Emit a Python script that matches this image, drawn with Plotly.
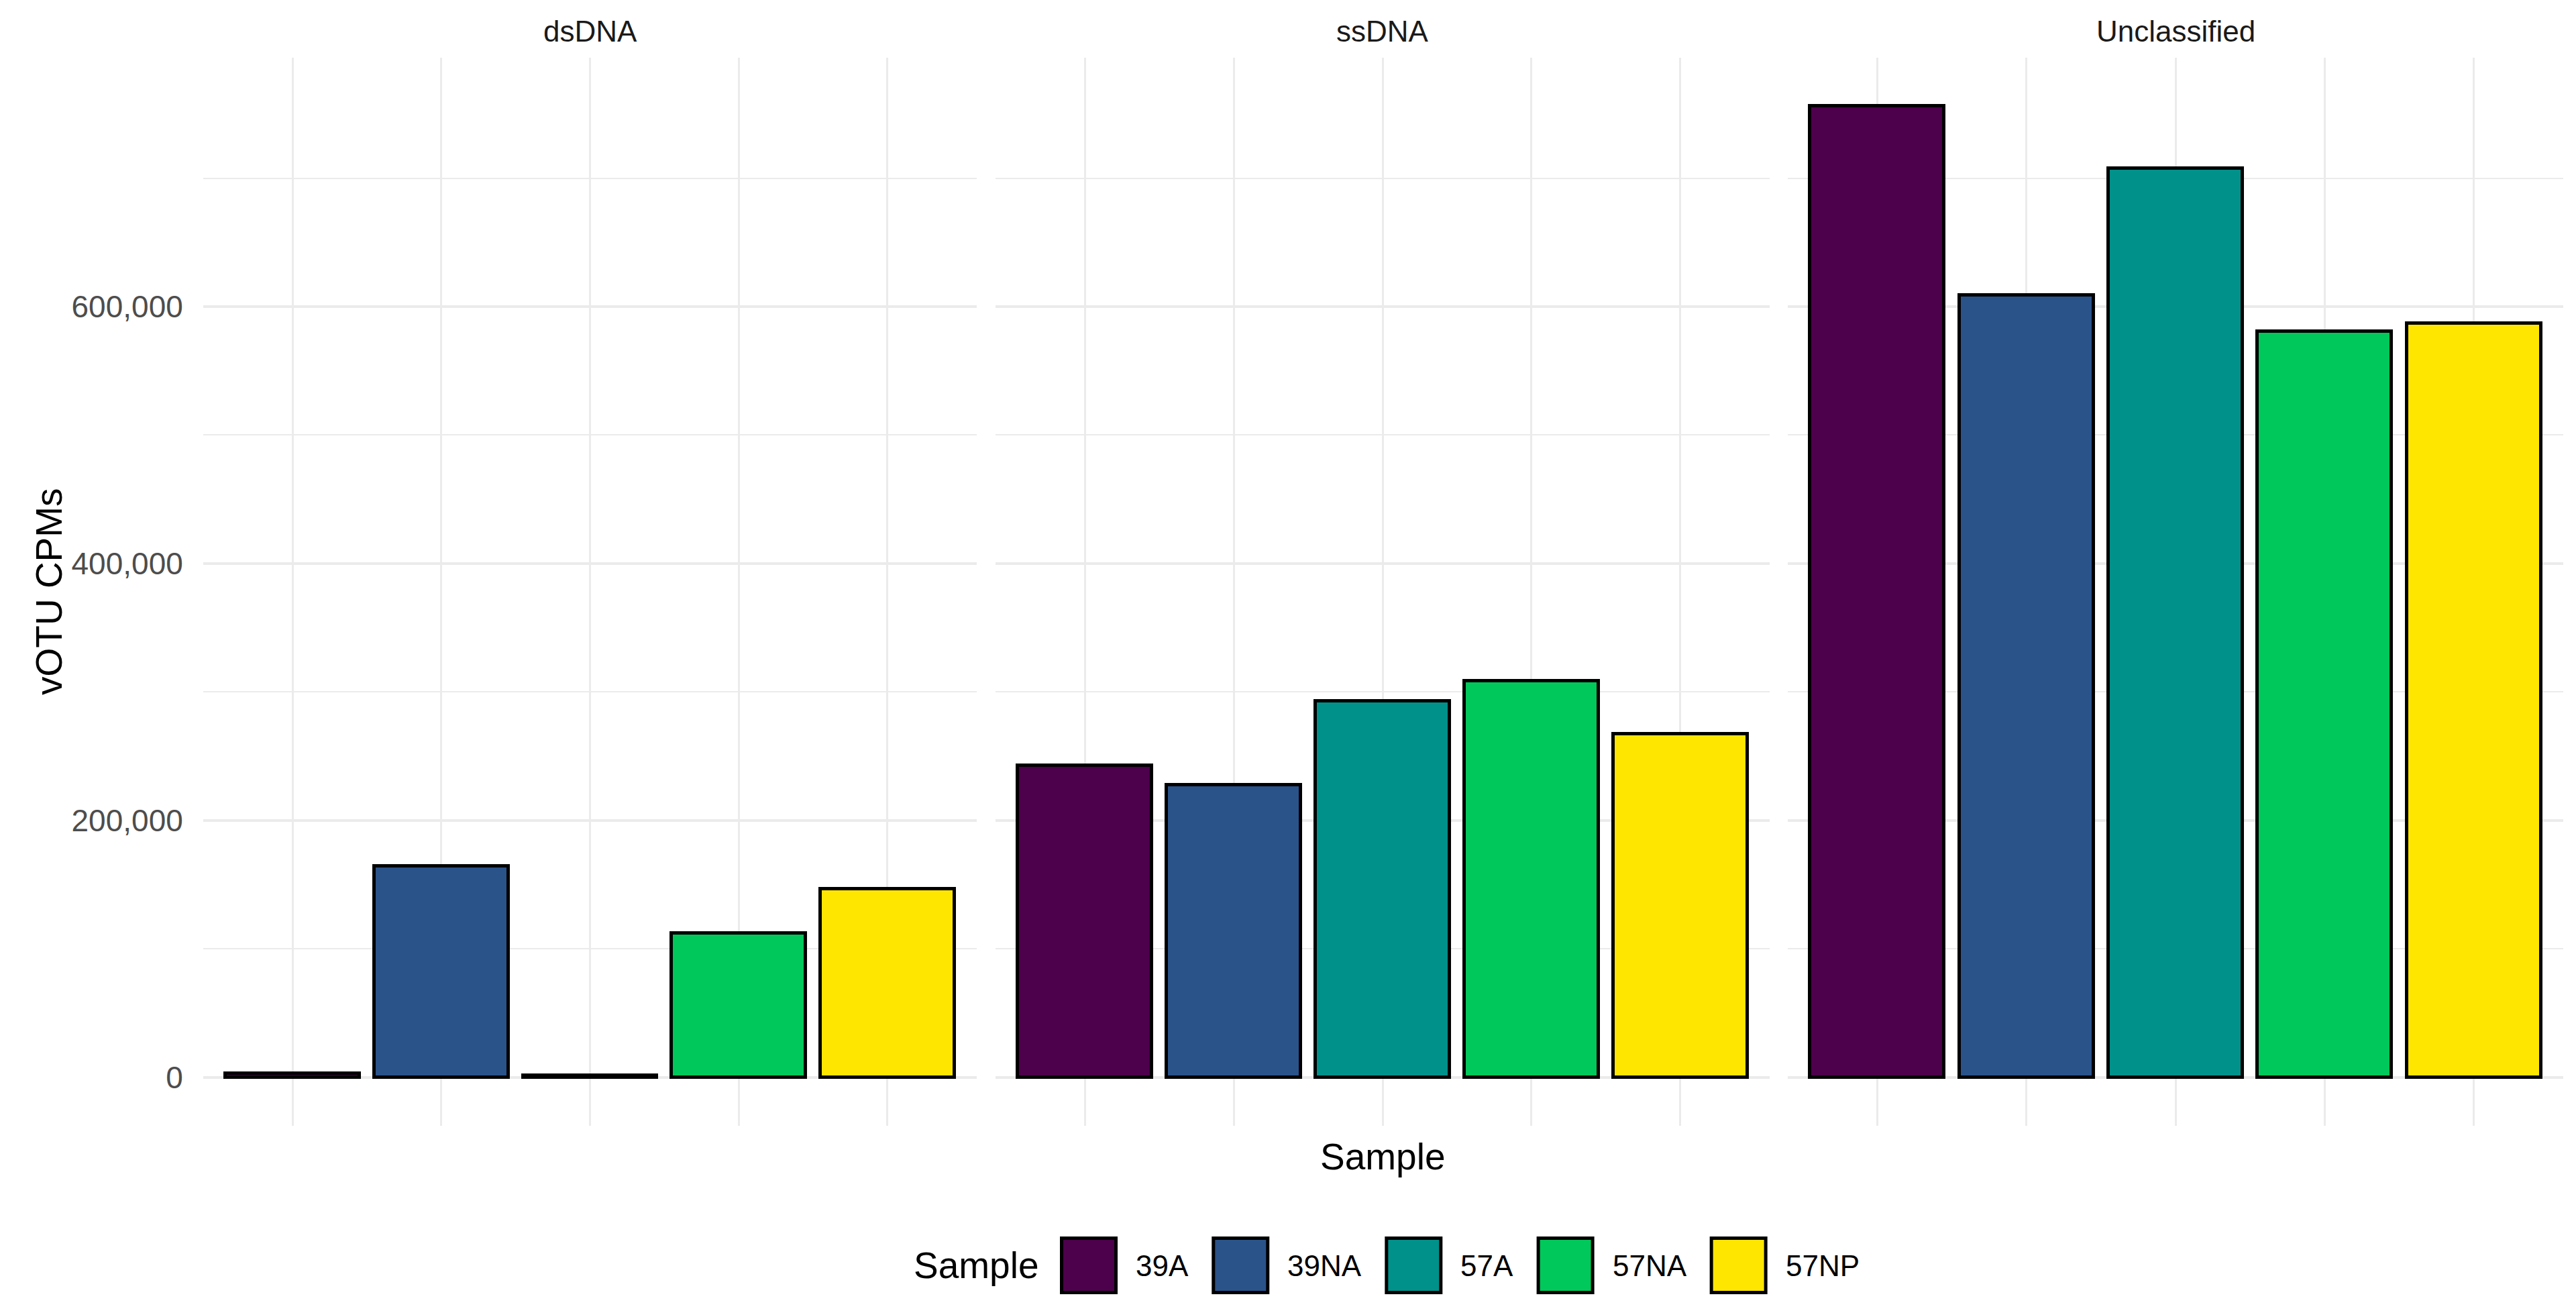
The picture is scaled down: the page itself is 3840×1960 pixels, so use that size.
import plotly.graph_objects as go

# ---- data ----
panels = ["dsDNA", "ssDNA", "Unclassified"]
samples = ["39A", "39NA", "57A", "57NA", "57NP"]
ds_vals = [3000, 164500, 1500, 112000, 146500]
ss_vals = [242800, 227400, 292900, 308300, 267200]
un_vals = [756000, 608900, 707600, 580600, 587000]
colors = ["#4D004C", "#2A538A", "#00918B", "#00C85A", "#FFE600"]
y_ticks = [0, 200000, 400000, 600000]
y_title = "vOTU CPMs"
x_title = "Sample"
legend_title = "Sample"

# page has an 8px body margin; compensate so screen pixels match the reference
OFF = 8
W, H = 3840 - 2 * OFF, 1960 - 2 * OFF
FONT = "Liberation Sans, Arial, sans-serif"
GRID = "#EBEBEB"

def px(xs):
    return (xs - OFF) / W

def py(ys):
    return 1 - (ys - OFF) / H

values = [ds_vals, ss_vals, un_vals]
vmax = max(max(v) for v in values)
yrange = [-0.05 * vmax, 1.05 * vmax]

# panel domains (screen pixels)
px_domains = [(303, 1456), (1484, 2638), (2665, 3821)]
ydom = [py(1678), py(86)]

fig = go.Figure()
for i, (name, vals) in enumerate(zip(panels, values)):
    ax = "" if i == 0 else str(i + 1)
    fig.add_trace(go.Bar(
        x=samples, y=vals, width=0.9,
        marker=dict(color=colors, line=dict(color="black", width=5)),
        xaxis="x" + ax, yaxis="y" + ax, showlegend=False,
    ))
    xd = [px(px_domains[i][0]), px(px_domains[i][1])]
    fig.layout["xaxis" + ax] = dict(
        domain=xd, type="category", categoryorder="array", categoryarray=samples,
        range=[-0.6, len(samples) - 0.4], showticklabels=False, ticks="",
        showgrid=True, gridcolor=GRID, gridwidth=3, zeroline=False, showline=False,
        anchor="y" + ax,
    )
    yax = dict(
        domain=ydom, range=yrange, tickvals=y_ticks, tickformat=",",
        showgrid=True, gridcolor=GRID, gridwidth=3.5, zeroline=False, showline=False,
        minor=dict(dtick=100000, tick0=0, showgrid=True, gridcolor=GRID, gridwidth=2, ticks=""),
        anchor="x" + ax,
        tickfont=dict(family=FONT, size=46, color="#4D4D4D"),
        ticks="outside", ticklen=20, tickcolor="rgba(0,0,0,0)",
        showticklabels=(i == 0),
    )
    if i > 0:
        yax["matches"] = "y"
    fig.layout["yaxis" + ax] = yax
    # strip label
    fig.add_annotation(
        text=name, x=(xd[0] + xd[1]) / 2, y=py(47), xref="paper", yref="paper",
        showarrow=False, font=dict(family=FONT, size=44, color="#1A1A1A"),
        xanchor="center", yanchor="middle",
    )

# axis titles
fig.add_annotation(text=y_title, x=px(73), y=(ydom[0] + ydom[1]) / 2, xref="paper", yref="paper",
                   textangle=-90, showarrow=False, font=dict(family=FONT, size=55, color="black"),
                   xanchor="center", yanchor="middle")
fig.add_annotation(text=x_title, x=px((px_domains[1][0] + px_domains[1][1]) / 2), y=py(1724),
                   xref="paper", yref="paper", showarrow=False,
                   font=dict(family=FONT, size=55, color="black"), xanchor="center", yanchor="middle")

# ---- custom legend (keys drawn on a dedicated legend axis) ----
arial = {"3": .556, "9": .556, "5": .556, "7": .556, "A": .667, "N": .722, "P": .667}
def text_w(s, size):
    return sum(arial.get(c, .6) for c in s) * size

key_w, key_gap, item_gap, lab_size = 86, 25, 37, 44
start = 1580
centers, lab_left = [], []
x = start
for s in samples:
    centers.append(x + key_w / 2)
    lab_left.append(x + key_w + key_gap)
    x = x + key_w + key_gap + text_w(s, lab_size) + item_gap

leg_y = py(1886)
fig.add_trace(go.Scatter(
    x=[c - OFF for c in centers], y=[0.5] * len(samples), mode="markers",
    marker=dict(symbol="square", size=key_w - 5, color=colors, line=dict(color="black", width=5)),
    xaxis="x4", yaxis="y4", showlegend=False, hoverinfo="skip",
))
fig.layout["xaxis4"] = dict(domain=[0, 1], range=[0, W], visible=False, anchor="y4")
fig.layout["yaxis4"] = dict(domain=[0, 2 * leg_y], range=[0, 1], visible=False, anchor="x4")
for s, lx in zip(samples, lab_left):
    fig.add_annotation(text=s, x=px(lx), y=leg_y, xref="paper", yref="paper", showarrow=False,
                       xanchor="left", yanchor="middle", font=dict(family=FONT, size=lab_size, color="black"))
fig.add_annotation(text=legend_title, x=px(start - 30), y=leg_y, xref="paper", yref="paper",
                   showarrow=False, xanchor="right", yanchor="middle",
                   font=dict(family=FONT, size=55, color="black"))

fig.update_layout(
    width=W, height=H, margin=dict(l=0, r=0, t=0, b=0),
    paper_bgcolor="white", plot_bgcolor="white", bargap=0, showlegend=False,
    font=dict(family=FONT),
)
fig.write_html("out.html")
